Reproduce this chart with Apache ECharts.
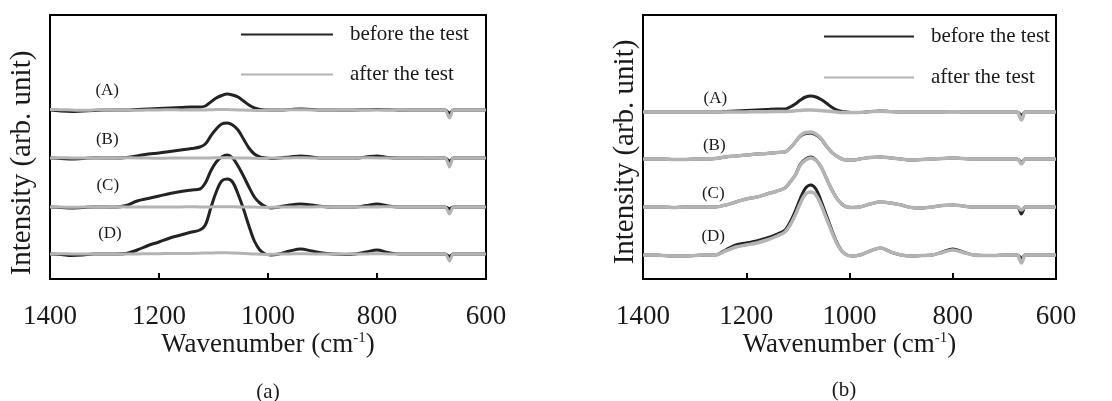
<!DOCTYPE html>
<html>
<head>
<meta charset="utf-8">
<script src="https://cdn.jsdelivr.net/npm/echarts@6/dist/echarts.min.js"></script>
<style>
html, body { margin: 0; background: #fff; }
#chart { width: 1112px; height: 401px; }
</style>
</head>
<body>
<div id="chart"></div>
<script>
// wavenumber grid shared by every spectrum (cm-1)
const wavenumbers = [1400, 1380, 1360, 1340, 1320, 1300, 1280, 1260, 1240, 1220,
    1200, 1180, 1160, 1140, 1125, 1115, 1105, 1095, 1085, 1075,
    1065, 1055, 1045, 1035, 1025, 1015, 1005, 995, 980, 960,
    940, 920, 900, 880, 860, 840, 820, 800, 780, 760,
    740, 720, 700, 685, 675, 670, 667, 664, 660, 650,
    630, 615, 600]

const sampleNames = ['(A)', '(B)', '(C)', '(D)']

// panel (a): vertical offsets of each trace, then the traces
const offsetsA = [169, 121, 72, 25]
const aBeforeA = [0, -1, -1.5, -1, -0.5, 0, 0, 0, 0.5, 1,
    1.5, 2, 2.5, 3, 3, 4, 8, 12, 14.5, 16,
    15, 13, 9, 5, 2, 0.5, 0, 0, 0, 0.5,
    1, 0.5, 0, 0, 0, 0, 0.3, 0.5, 0.3, 0,
    0, 0, 0, 0, 0, -2, -3, -2, 0, 0,
    0, 0, 0]
const aBeforeB = [0, -0.5, -1, -0.5, 0, 0, 0, 0.5, 2, 4,
    5, 6.5, 8, 9.5, 11, 14, 22, 29, 34, 35,
    33, 28, 19, 10, 4, 1, 0, -0.5, 0, 1,
    2, 1, 0, 0, 0, 0, 1, 2, 0.5, 0,
    0, 0, 0, 0, 0, -2, -3, -2, 0, 0,
    0, 0, 0]
const aBeforeC = [0, -0.5, -1, -0.5, 0, 0, 0, 1.5, 6, 8.5,
    11, 13.5, 15.5, 17, 18, 24, 36, 45, 50, 52,
    49, 41, 31, 20, 10, 4, 0.5, -1, 0, 2,
    3, 2, 0.5, 0, 0, 0, 1.5, 3, 1, 0,
    0, 0, 0, 0, 0, -1, -2, -1, 0, 0,
    0, 0, 0]
const aBeforeD = [0, -0.5, -1.5, -1, 0, 0, 0, 0.5, 4, 8.5,
    12, 16, 19, 22, 24, 29, 46, 62, 73, 75,
    72, 60, 45, 28, 13, 4, 0, -1, 0, 3,
    5, 3, 1, 0, -0.5, 0, 2, 4, 1.5, 0,
    0, 0, 0, 0, 0, -1.5, -2.5, -1.5, 0, 0,
    0, 0, 0]
const aAfterA = [0.5, 0.3, 0, -0.3, 0, 0.3, 0, 0, -0.3, 0,
    0, 0.3, 0, 0, 0, 0, 0.3, 0.5, 0.5, 0.5,
    0.3, 0, 0, -0.3, -0.5, -0.5, -0.3, 0, 0, 0.3,
    0.3, 0, 0, 0, 0.3, 0, 0, 0, 0, 0.3,
    0, 0, 0, 0, 0, -5, -8, -5, 0, 0,
    0, 0, 0]
const aAfterB = [0, 0.3, 0, 0, -0.3, 0, 0, 0.3, 0, 0,
    -0.3, 0, 0, 0, 0, 0, 0, 0.3, 0.3, 0.3,
    0, 0, 0, 0, -0.3, -0.5, -0.5, 0, 0, 0,
    0.3, 0, 0, 0, 0, 0, 0.3, 0, 0, 0,
    0, 0, 0.3, 0, 0, -5, -9, -5, 0, 0,
    0, 0, 0]
const aAfterC = [0, 0, -0.3, 0, 0, 0, 0.3, 0, 0, 0,
    0, 0, 0, 0.3, 0, 0, 0, 0.3, 0.3, 0.3,
    0.3, 0, 0, 0, 0, -0.3, -0.5, -0.3, 0, 0,
    0, 0, 0.3, 0, 0, 0, 0, 0, 0.3, 0,
    0, 0, 0, 0, 0, -4, -7, -4, 0, 0,
    0, 0, 0]
const aAfterD = [0, 0.3, 0, 0, 0, 0, 0, 0, 0, 0.3,
    0.3, 0.5, 0.5, 0.5, 0.8, 1, 1, 1.2, 1.2, 1.2,
    1, 0.8, 0.5, 0.3, 0, -0.3, -0.5, -0.3, 0, 0,
    0.3, 0, 0, 0, 0, 0, 0, 0.3, 0, 0,
    0, 0, 0, 0, 0, -4, -7, -4, 0, 0,
    0, 0, 0]

// panel (b)
const offsetsB = [167, 120, 72, 24]
const bBeforeA = [0, 0, 0, 0, 0, 0, 0, 0, 0.5, 1,
    1.5, 2, 2.5, 3, 3, 5, 8, 12, 15, 16,
    15, 12.5, 9, 5, 2, 0.5, 0, -0.5, -0.5, 0.5,
    1, 0.5, 0, 0, 0, 0, 0, 0.3, 0, 0,
    0, 0, 0, 0, 0, -2, -3, -2, 0, 0,
    0, 0, 0]
const bBeforeB = [0, 0, 0, -0.5, -0.5, 0, 0, 0.5, 2, 3,
    4, 5, 5.5, 6.5, 7, 11, 17, 23, 25.5, 26,
    24, 20, 13, 7, 3, 0, -1, -1, 0, 1.5,
    2, 1, 0, -1, -0.5, 0, 0.5, 1, 0.5, 0,
    0, 0, 0, 0, 0, -2, -3, -2, 0, 0,
    0, 0, 0]
const bBeforeC = [0, 0, 0, -0.5, 0, 0, 0, 0, 2, 5,
    8, 10, 13, 16, 19, 25, 32, 43, 48, 50,
    47, 40, 29, 18, 9, 3, 0, -0.5, 0, 3,
    5, 4, 2, -0.5, -1, 0, 1.5, 2, 1, 0,
    0, 0, 0, 0, 0, -4, -7, -4, 0, 0,
    0, 0, 0]
const bBeforeD = [0, 0, -0.5, -1, -1, -0.5, 0, 0, 5, 10,
    12, 14, 17, 21, 25, 33, 44, 57, 67, 70,
    66, 54, 40, 26, 13, 4, 0, -1, 0, 4,
    7, 3, 0, -1, -0.5, 0, 3, 6, 3, 0,
    -0.5, -0.5, 0, 0, 0, -2, -4, -2, 0, 0,
    0, 0, 0]
const bAfterA = [0, 0, 0, 0, 0, 0, 0, 0, 0, 0,
    0, 0.3, 0.3, 0.5, 0.5, 0.8, 1.2, 1.6, 2, 2,
    1.8, 1.4, 1, 0.5, 0, -0.5, -0.5, -0.5, -0.5, 0.3,
    0.8, 0.3, 0, 0, 0, 0, 0, 0.3, 0, 0,
    0, 0, 0, 0, 0, -5, -8, -5, 0, 0,
    0, 0, 0]
const bAfterB = [0, 0, 0, -0.5, -0.5, 0, 0, 0.5, 2, 3,
    4, 5, 5.5, 6.5, 7, 11, 17, 23.5, 26.5, 27,
    25, 20.5, 13.5, 7, 3, 0, -1, -1, 0, 1.5,
    2, 1, 0, -1, -0.5, 0, 0.5, 1, 0.5, 0,
    0, 0, 0, 0, 0, -3, -5, -3, 0, 0,
    0, 0, 0]
const bAfterC = [0, 0, 0, -0.5, 0, 0, 0, 0, 2, 5,
    8, 10, 13, 16, 19, 25, 32, 42, 47, 49,
    46.5, 40, 29, 18, 9, 3, 0, -0.5, 0, 3,
    5, 4, 2, -0.5, -1, 0, 1.5, 2, 1, 0,
    0, 0, 0, 0, 0, -2, -3, -2, 0, 0,
    0, 0, 0]
const bAfterD = [0, 0, -0.5, -1, -1, -0.5, 0, 0, 4, 8,
    10, 12, 15, 19, 23, 30, 40, 52, 61, 63,
    60, 50, 37, 24, 12, 4, 0, -1, 0, 4,
    7, 3, 0, -1, -0.5, 0, 2.5, 5, 2.5, 0,
    -0.5, -0.5, 0, 0, 0, -5, -8, -5, 0, 0,
    0, 0, 0]

// where the (A)..(D) tags sit, in data units [wavenumber, intensity]
const tagWnA = [1295, 1295, 1294, 1290]
const tagYA = [188, 139, 93, 45]
const tagWnB = [1260, 1262, 1264, 1264]
const tagYB = [180, 133, 85, 42]

const BEFORE = 'before the test'
const AFTER = 'after the test'
const FONT = 'Liberation Serif'
const DARK = '#232323'
const GRAY = '#b4b4b4'
const INK = '#1a1a1a'

const chart = echarts.init(document.getElementById('chart'))

function traceSeries(gridIdx, name, traces, offsets, color, width) {
    return traces.map((vals, k) => ({
        type: 'line',
        name: name,
        xAxisIndex: gridIdx,
        yAxisIndex: gridIdx,
        data: wavenumbers.map((w, i) => [w, offsets[k] + vals[i]]),
        symbol: 'none',
        smooth: 0.35,
        lineStyle: { color: color, width: width },
        itemStyle: { color: color },
        silent: true
    }))
}

function tagSeries(gridIdx, wns, ys) {
    return {
        type: 'scatter',
        xAxisIndex: gridIdx,
        yAxisIndex: gridIdx,
        symbolSize: 1,
        // scatter defaults to 0.8 opacity, which would fade the tag text too
        itemStyle: { color: 'rgba(255,255,255,0)', opacity: 1 },
        silent: true,
        data: sampleNames.map((n, k) => ({ name: n, value: [wns[k], ys[k]] })),
        label: {
            show: true,
            position: 'inside',
            formatter: p => p.name,
            fontFamily: FONT,
            fontSize: 17,
            color: INK,
            textBorderWidth: 0
        }
    }
}

function xAxisFor(gridIdx) {
    return {
        gridIndex: gridIdx,
        type: 'value',
        inverse: true,
        min: 600,
        max: 1400,
        interval: 200,
        axisLine: { show: false },
        splitLine: { show: false },
        axisTick: { inside: true, length: 6, lineStyle: { color: '#000', width: 2 } },
        axisLabel: {
            fontFamily: FONT, fontSize: 27, color: INK, margin: 24,
            showMinLabel: true, showMaxLabel: true,
            formatter: v => String(v)
        },
        name: 'Wavenumber (cm{sup|-1})',
        nameLocation: 'middle',
        nameGap: 52,
        nameMoveOverlap: false,
        nameTextStyle: {
            fontFamily: FONT, fontSize: 27, color: INK,
            rich: { sup: { fontFamily: FONT, fontSize: 15, color: INK, padding: [0, 0, 12, 0] } }
        }
    }
}

function yAxisFor(gridIdx) {
    return { gridIndex: gridIdx, type: 'value', min: 0, max: 264, show: false }
}

function legendFor(left, top, width, gap) {
    return {
        left: left,
        top: top,
        orient: 'vertical',
        padding: 0,
        itemWidth: width,
        itemHeight: 14,
        itemGap: gap,
        selectedMode: false,
        itemStyle: { opacity: 0 },
        data: [BEFORE, AFTER],
        textStyle: { fontFamily: FONT, fontSize: 21, color: INK, padding: [0, 0, 0, 12] }
    }
}

function sideText(x, y, text, size, rot) {
    return {
        type: 'text',
        x: x,
        y: y,
        rotation: rot || 0,
        style: {
            text: text,
            fontFamily: FONT,
            fontSize: size,
            fill: INK,
            align: 'center',
            verticalAlign: 'middle'
        }
    }
}

const option = {
    animation: false,
    backgroundColor: '#fff',
    grid: [
        { left: 50, top: 15, width: 436, height: 264, show: true, borderColor: '#000', borderWidth: 2 },
        { left: 643, top: 15, width: 413, height: 264, show: true, borderColor: '#000', borderWidth: 2 }
    ],
    xAxis: [xAxisFor(0), xAxisFor(1)],
    yAxis: [yAxisFor(0), yAxisFor(1)],
    legend: [legendFor(240, 24, 92, 19), legendFor(823, 26, 90, 20)],
    graphic: [
        sideText(22, 163, 'Intensity (arb. unit)', 29, Math.PI / 2),
        sideText(625, 152, 'Intensity (arb. unit)', 29, Math.PI / 2),
        sideText(268, 392, '(a)', 21),
        sideText(844, 390, '(b)', 21)
    ],
    series: [
        ...traceSeries(0, BEFORE, [aBeforeA, aBeforeB, aBeforeC, aBeforeD], offsetsA, DARK, 3),
        ...traceSeries(0, AFTER, [aAfterA, aAfterB, aAfterC, aAfterD], offsetsA, GRAY, 3),
        ...traceSeries(1, BEFORE, [bBeforeA, bBeforeB, bBeforeC, bBeforeD], offsetsB, DARK, 3),
        ...traceSeries(1, AFTER, [bAfterA, bAfterB, bAfterC, bAfterD], offsetsB, GRAY, 3.5),
        tagSeries(0, tagWnA, tagYA),
        tagSeries(1, tagWnB, tagYB)
    ]
}

chart.setOption(option)
</script>
</body>
</html>
